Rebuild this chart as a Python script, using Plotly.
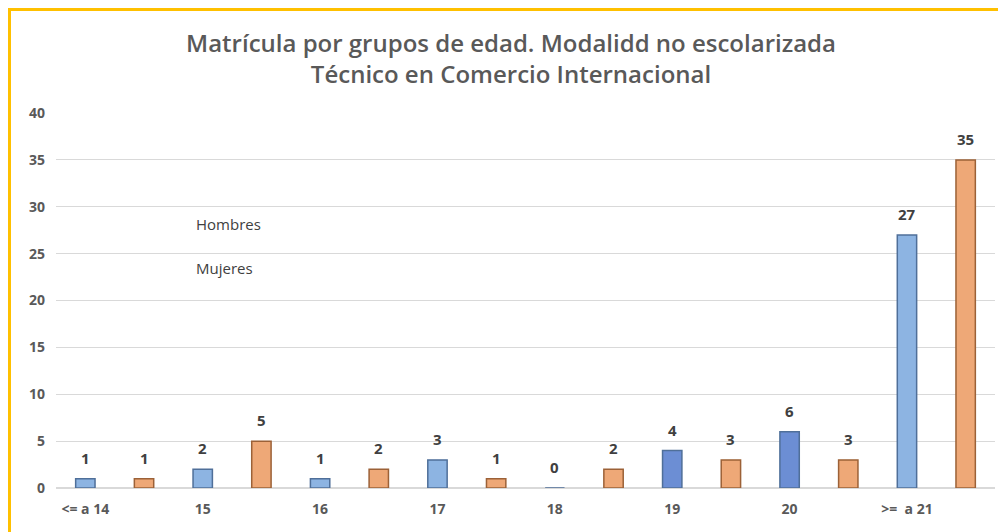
import plotly.graph_objects as go

categories = ["<= a 14", "15", "16", "17", "18", "19", "20", ">=  a 21"]
hombres = [1, 2, 1, 3, 0, 4, 6, 27]
mujeres = [1, 5, 2, 1, 2, 3, 3, 35]
hombres_colors = ["#8db4e2", "#8db4e2", "#8db4e2", "#8db4e2", "#8db4e2",
                  "#6c8ed4", "#6c8ed4", "#8db4e2"]
mujeres_color = "#eea877"
y_ticks = [0, 5, 10, 15, 20, 25, 30, 35, 40]

FW, FH = 998, 524          # page adds an 8px body margin
W = 0.165
fig = go.Figure()
fig.add_trace(go.Bar(
    x=categories, y=hombres, name="Hombres",
    width=W, offset=-W / 2,
    marker=dict(color=hombres_colors, line=dict(color="#4f6f99", width=1.5)),
    showlegend=False,
))
fig.add_trace(go.Bar(
    x=categories, y=mujeres, name="Mujeres",
    width=W, offset=0.5 - W / 2,
    marker=dict(color=mujeres_color, line=dict(color="#9c6137", width=1.5)),
    showlegend=False,
))

L, R, T, B = 48, 11, 105, 44
PW, PH = FW - L - R, FH - T - B

def px_x(p):
    return (p - L) / PW

def px_y(p):
    return (FH - B - p) / PH

label_font = dict(family="Open Sans", size=15, color="#404040", weight="bold")
annotations = []
for i, v in enumerate(hombres):
    annotations.append(dict(x=i, y=v, text=str(v), xref="x", yref="y",
                            showarrow=False, yanchor="bottom", yshift=9,
                            font=label_font))
for i, v in enumerate(mujeres):
    annotations.append(dict(x=i + 0.5, y=v, text=str(v), xref="x", yref="y",
                            showarrow=False, yanchor="bottom", yshift=9,
                            font=label_font))
annotations += [
    dict(text="Hombres", x=px_x(186), y=px_y(216), xref="paper", yref="paper",
         xanchor="left", yanchor="middle", showarrow=False,
         font=dict(family="Open Sans", size=15, color="#404040")),
    dict(text="Mujeres", x=px_x(186), y=px_y(260), xref="paper", yref="paper",
         xanchor="left", yanchor="middle", showarrow=False,
         font=dict(family="Open Sans", size=15, color="#404040")),
]

fig.update_layout(
    width=FW, height=FH,
    margin=dict(l=L, r=R, t=T, b=B, autoexpand=False),
    paper_bgcolor="white", plot_bgcolor="white",
    barmode="overlay",
    title=dict(
        text="Matrícula por grupos de edad. Modalidd no escolarizada<br>Técnico en Comercio Internacional",
        x=503 / FW, xanchor="center", xref="container",
        y=1 - 44 / FH, yanchor="top", yref="container",
        font=dict(family="Open Sans", size=24, color="#595959", weight=600),
    ),
    xaxis=dict(
        type="category", range=[-0.25, 7.75],
        showgrid=False, showline=True, linecolor="#d9d9d9", linewidth=1,
        ticks="", ticklabelstandoff=8,
        tickfont=dict(family="Open Sans", size=14, color="#595959", weight="bold"),
        fixedrange=True,
    ),
    yaxis=dict(
        range=[0, 40], tickvals=y_ticks,
        showgrid=True, gridcolor="#d9d9d9", gridwidth=1,
        zeroline=True, zerolinecolor="#d9d9d9",
        showline=False, ticks="", ticklabelstandoff=10,
        tickfont=dict(family="Open Sans", size=14, color="#595959", weight="bold"),
    ),
    annotations=annotations,
    shapes=[
        dict(type="line", xref="paper", yref="paper",
             x0=px_x(0), x1=px_x(FW), y0=px_y(1.5), y1=px_y(1.5),
             line=dict(color="#ffc000", width=3)),
        dict(type="line", xref="paper", yref="paper",
             x0=px_x(1.5), x1=px_x(1.5), y0=px_y(0), y1=px_y(FH),
             line=dict(color="#ffc000", width=3)),
    ],
)

fig.write_html("out.html")
